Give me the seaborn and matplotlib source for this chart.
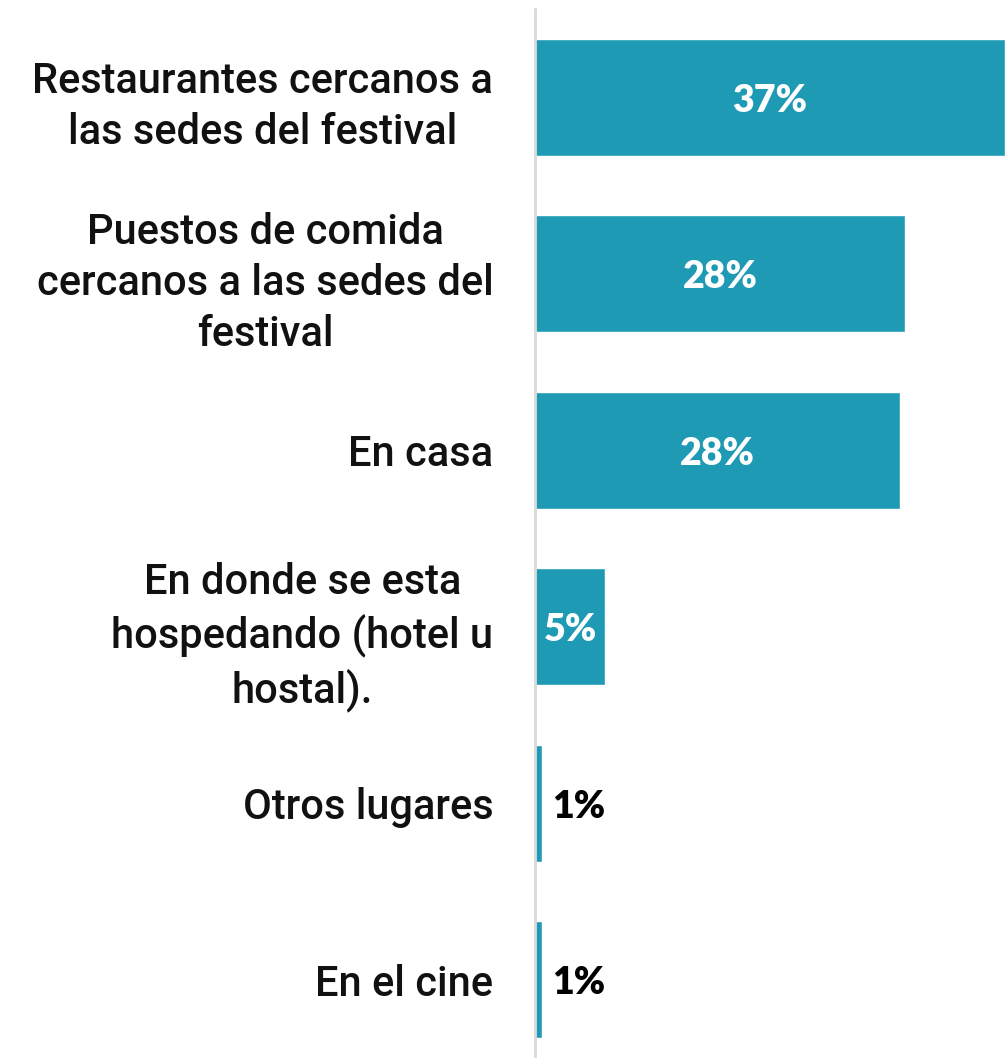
import matplotlib
matplotlib.use("Agg")
import matplotlib.pyplot as plt
import seaborn as sns
import pandas as pd

categories = [
    "Restaurantes cercanos a\nlas sedes del festival",
    "Puestos de comida\ncercanos a las sedes del\nfestival",
    "En casa",
    "En donde se esta\nhospedando (hotel u\nhostal).",
    "Otros lugares",
    "En el cine",
]
values = [37.0, 29.1, 28.7, 5.5, 0.55, 0.55]
value_labels = ["37%", "28%", "28%", "5%", "1%", "1%"]

df = pd.DataFrame({"cat": categories, "val": values})

sns.set_theme(style="white")
plt.rcParams["font.family"] = ["Roboto", "DejaVu Sans"]

fig = plt.figure(figsize=(10.05, 10.58), dpi=100)
ax = fig.add_axes([535 / 1005, 0.0, 470 / 1005, 1 - 9.3 / 1058])

sns.barplot(data=df, y="cat", x="val", orient="h", color="#1E9AB4",
            saturation=1, width=0.663, ax=ax)

ax.set_xlim(0, 37)
ax.set_ylim(5.445, -0.5)
ax.set_xlabel("")
ax.set_ylabel("")
ax.set_xticks([])
for s in ["top", "right", "bottom"]:
    ax.spines[s].set_visible(False)
ax.spines["left"].set_color("#d9d9d9")
ax.spines["left"].set_linewidth(2)
ax.tick_params(axis="y", length=0, pad=30)
ax.set_yticks(range(len(categories)))
ax.set_yticklabels(categories, fontsize=30, color="#111111", multialignment="center",
                   linespacing=1.32, fontweight="medium")

for i, (v, lab) in enumerate(zip(values, value_labels)):
    if v > 3:
        ax.text(v / 2, i + 0.02, lab, ha="center", va="center", color="white",
                fontsize=27, fontweight="heavy", family=["Lato", "DejaVu Sans"])
    else:
        ax.text(v + 0.8, i + 0.02, lab, ha="left", va="center", color="black",
                fontsize=27, fontweight="heavy", family=["Lato", "DejaVu Sans"])

fig.savefig("out.png", dpi=100)
